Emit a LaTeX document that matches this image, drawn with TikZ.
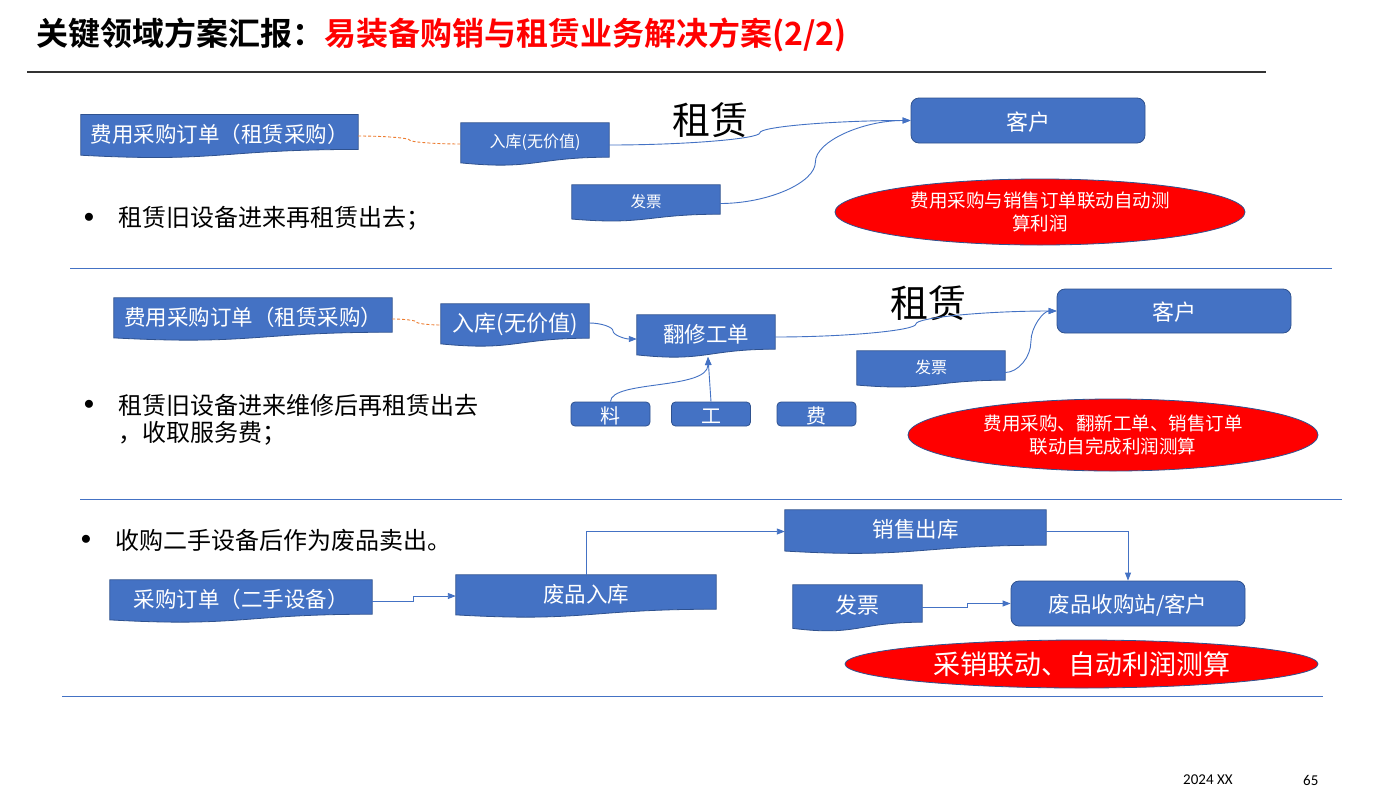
\documentclass[tikz,border=0pt]{standalone}
\usepackage{fontspec}
\newfontfamily\cjk{Noto Sans CJK SC}[BoldFont={Noto Sans CJK SC Bold}]
\newfontfamily\ftr{Carlito}
\usetikzlibrary{arrows.meta,calc,backgrounds,shapes.geometric}
\definecolor{boxblue}{HTML}{4472C4}
\definecolor{boxline}{HTML}{2F528F}
\definecolor{connblue}{HTML}{4472C4}
\definecolor{orangeline}{HTML}{ED7D31}
\newcommand\fsz[2]{\fontsize{#1}{#2}\selectfont}
\tikzset{
 docnode/.style={rectangle, inner sep=0pt, text=white, text height=20pt, text depth=0pt, font={\cjk\fsz{21.5}{24}}},
 smalldoc/.style={docnode, text height=15pt, font={\cjk\fsz{16}{19}}},
 docshape/.style={fill=boxblue, draw=boxline, line width=0.8pt},
 rbox/.style={rectangle, rounded corners=8pt, fill=boxblue, draw=boxline, line width=0.8pt, text=white, text height=19pt, text depth=0pt, font={\cjk\fsz{22}{24}}, inner sep=0pt},
 sbox/.style={rbox, rounded corners=4pt, minimum width=79, minimum height=24, font={\cjk\fsz{20}{24}}},
 redell/.style={ellipse, fill=red, draw=boxline, line width=0.8pt, text=white, inner sep=0pt, align=center},
 conn/.style={draw=connblue, line width=0.9pt},
 arr/.style={conn, -{Triangle[length=8pt,width=6pt]}},
 odash/.style={draw=orangeline, line width=0.9pt, dash pattern=on 3pt off 2pt},
 bul/.style={anchor=west, font={\cjk\fsz{24}{28}}, inner sep=0pt},
 bdot/.style={font={\fsz{20}{24}}, inner sep=0pt},
 divider/.style={draw=connblue, line width=1pt},
 bigzl/.style={font={\cjk\fsz{38}{40}}, inner sep=0pt},
}
\newcommand\docbg[1]{%
  \path[docshape] let \p1=(#1.north west), \p2=(#1.south east) in
   (\p1) -- (\x2,\y1) -- (\p2)
   .. controls ({(\x1+\x2)/2},\y2) and ({(\x1+\x2)/2},{\y2-0.38*(\y1-\y2)}) .. (\x1,{\y2-0.165*(\y1-\y2)}) -- cycle;}
\newcommand\cconn[4][]{%
  \draw[#1] let \p1=(#2), \p2=(#3), \n1={\x1+#4*(\x2-\x1)}, \n2={(\y1+\y2)/2} in
   (\p1) .. controls ({(\x1+\n1)/2},\y1) and (\n1,{(\y1+\n2)/2}) .. (\n1,\n2)
   .. controls (\n1,{(\n2+\y2)/2}) and ({(\n1+\x2)/2},\y2) .. (\p2);}
\begin{document}
\begin{tikzpicture}[x=1pt,y=-1pt]
\useasboundingbox (0,0) rectangle (1398,793);
% title
\node[anchor=west, inner sep=0pt, font={\cjk\bfseries\fsz{32}{36}}] (title) at (36,35) {关键领域方案汇报：\textcolor{red}{易装备购销与租赁业务解决方案(2/2)}};
\draw[line width=1.5pt, draw=black!80] (27,72) -- (1266,72);
% section 1
\node[docnode, minimum width=277, minimum height=34.5] (A1) at (219.5,132) {费用采购订单（租赁采购）};
\node[smalldoc, minimum width=148, minimum height=34] (B1) at (535,140) {入库(无价值)};
\node[smalldoc, minimum width=148, minimum height=29, font={\cjk\fsz{15.5}{19}}] (C1) at (646,199.5) {发票};
\node[rbox, minimum width=234, minimum height=45] (K1) at (1028,120.5) {客户};
\node[bigzl] (ZL1) at (710,120) {租赁};
\node[redell, minimum width=410, minimum height=66, font={\cjk\fsz{18.5}{22.5}}] (R1) at (1040,212) {费用采购与销售订单联动自动测\\算利润};
\node[bdot] (bd1) at (89,218) {$\bullet$};
\node[bul] (bt1) at (118,218) {租赁旧设备进来再租赁出去；};
\draw[divider] (70,268) -- (1332,268);
% section 2
\node[docnode, minimum width=278, minimum height=34] (A2) at (253,315) {费用采购订单（租赁采购）};
\node[docnode, minimum width=148, minimum height=34, font={\cjk\fsz{22}{24}}] (B2) at (515,321) {入库(无价值)};
\node[docnode, minimum width=138, minimum height=34] (D2) at (706,332) {翻修工单};
\node[smalldoc, minimum width=148, minimum height=29] (F2) at (931,365.5) {发票};
\node[rbox, minimum width=234, minimum height=44] (K2) at (1174,311) {客户};
\node[bigzl] (ZL2) at (928,303) {租赁};
\node[sbox] (M1) at (610.5,414) {料};
\node[sbox] (M2) at (711,414) {工};
\node[sbox] (M3) at (816.5,414) {费};
\node[redell, minimum width=410, minimum height=72, font={\cjk\fsz{18.5}{23}}] (R2) at (1113,435) {费用采购、翻新工单、销售订单\\联动自完成利润测算};
\node[bdot] (bd2) at (89,405) {$\bullet$};
\node[bul] (bt2) at (118,405) {租赁旧设备进来维修后再租赁出去};
\node[bul] (bt2b) at (118,433) {，收取服务费；};
\draw[divider] (80,499) -- (1342,499);
% section 3
\node[bdot] (bd3) at (86,540) {$\bullet$};
\node[bul] (bt3) at (115,540) {收购二手设备后作为废品卖出。};
\node[docnode, minimum width=262, minimum height=34] (E3) at (241,597) {采购订单（二手设备）};
\node[docnode, minimum width=260, minimum height=34] (F3) at (586,592) {废品入库};
\node[docnode, minimum width=261, minimum height=35] (G3) at (915.5,527.5) {销售出库};
\node[rbox, minimum width=234, minimum height=45, text height=17pt, font={\cjk\fsz{21.5}{24}}] (H3) at (1128,603.5) {废品收购站/客户};
\node[docnode, minimum width=129, minimum height=37, font={\cjk\fsz{22}{24}}] (I3) at (857.5,603.5) {发票};
\node[redell, minimum width=473, minimum height=48, font={\cjk\fsz{27}{30}}] (R3) at (1081.5,664) {采销联动、自动利润测算};
\draw[divider] (62,696) -- (1323,696);
% footer
\node[anchor=west, inner sep=0pt, font={\ftr\fsz{15}{18}}] (f1) at (1183,780) {2024 XX};
\node[anchor=west, inner sep=0pt, font={\ftr\fsz{15}{18}}] (f2) at (1303,780) {65};
% document shapes
\begin{scope}[on background layer]
\fill[white] (0,0) rectangle (1398,793);
\foreach \nm in {A1,B1,C1,A2,B2,D2,F2,E3,F3,G3,I3} {\docbg{\nm}}
\end{scope}
% connectors
\cconn[odash]{[yshift=-4pt]A1.east}{[yshift=-4pt]B1.west}{0.5}
\cconn[arr]{[yshift=-5pt]B1.east}{K1.west}{0.5}
\cconn[arr]{[yshift=-4pt]C1.east}{K1.west}{0.5}
\cconn[odash]{[yshift=-4pt]A2.east}{[yshift=-4pt]B2.west}{0.5}
\cconn[arr]{[yshift=-2pt]B2.east}{[yshift=-7pt]D2.west}{0.5}
\cconn[arr]{[yshift=-5pt]D2.east}{K2.west}{0.5}
\cconn[arr]{[yshift=-7pt]F2.east}{K2.west}{0.5}
\coordinate (D2b) at (708,357);
\draw[arr] (M1.north) .. controls (611,380) and (708,390) .. (D2b);
\draw[arr] (M2.north) -- (D2b);
\draw[arr] ([yshift=-4pt]E3.east) -- ++(41,0) |- ([yshift=-4pt]F3.west);
\draw[arr] (F3.north) |- ([yshift=-4pt]G3.west);
\draw[arr] ([yshift=-4pt]G3.east) -| (H3.north);
\draw[arr] ([yshift=-4pt]I3.east) -- ++(45,0) |- (H3.west);
\end{tikzpicture}
\end{document}
